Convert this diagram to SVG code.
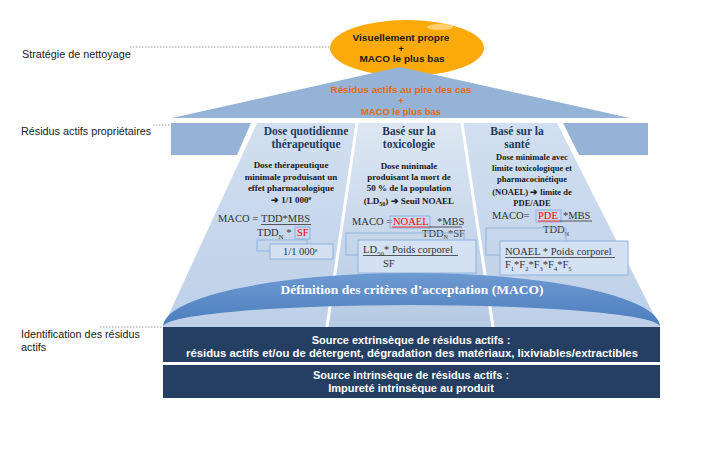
<svg xmlns="http://www.w3.org/2000/svg" width="711" height="449" viewBox="0 0 711 449">
<defs>
<style>
.lbl{font-family:"Liberation Sans",Arial,sans-serif;font-size:10.8px;fill:#1a1a1a}
.ora{font-family:"Liberation Sans",Arial,sans-serif;font-size:9.5px;font-weight:bold;fill:#E46C0A}
.blk{font-family:"Liberation Sans",Arial,sans-serif;font-size:9.5px;font-weight:bold;fill:#1a1a1a}
.hdr{font-family:"Liberation Serif","Times New Roman",serif;font-size:11.5px;font-weight:bold;fill:#1F3A60;text-anchor:middle}
.bod{font-family:"Liberation Serif","Times New Roman",serif;font-size:9px;font-weight:bold;fill:#1a1a1a;text-anchor:middle}
.bods{font-family:"Liberation Serif","Times New Roman",serif;font-size:8.5px;font-weight:bold;fill:#1a1a1a;text-anchor:middle}
.frm{font-family:"Liberation Serif","Times New Roman",serif;font-size:10.5px;fill:#333}
.red{fill:#FF0000}
.wht{font-family:"Liberation Sans",Arial,sans-serif;font-size:11px;font-weight:bold;fill:#ffffff;text-anchor:middle}
.arc{font-family:"Liberation Serif","Times New Roman",serif;font-size:13.5px;font-weight:bold;fill:#ffffff;text-anchor:middle}
.dot{stroke:#9a9a9a;stroke-width:1;stroke-dasharray:1.5 1.5;fill:none}
.bx{fill:none;stroke:#8FB2DE;stroke-width:1}
.bxf{fill:#D3E1F2;stroke:#8FB2DE;stroke-width:1}
.ul{stroke:#333;stroke-width:0.8}
.blue{fill:#95B3D7}
.dark{fill:#243F62}
</style>
<linearGradient id="gOut" x1="0" y1="0" x2="0" y2="1">
<stop offset="0" stop-color="#D2DFF0"/><stop offset="1" stop-color="#BDD0E8"/>
</linearGradient>
<linearGradient id="gMid" x1="0" y1="0" x2="0" y2="1">
<stop offset="0" stop-color="#DDE7F3"/><stop offset="1" stop-color="#B5CAE3"/>
</linearGradient>
<linearGradient id="gArc" x1="0" y1="0" x2="0" y2="1">
<stop offset="0" stop-color="#6E9AD2"/><stop offset="1" stop-color="#4B7DBC"/>
</linearGradient>
</defs>

<rect width="711" height="449" fill="#ffffff"/>

<g id="connectors">
<line class="dot" x1="130" y1="47" x2="330" y2="47"/>
<line class="dot" x1="153" y1="125" x2="171" y2="125"/>
<line class="dot" x1="100" y1="327" x2="163" y2="327"/>
</g>

<g id="left-labels">
<text class="lbl" x="22" y="58">Stratégie de nettoyage</text>
<text class="lbl" x="21" y="135">Résidus actifs propriétaires</text>
<text class="lbl" x="21" y="338">Identification des résidus</text>
<text class="lbl" x="21" y="351">actifs</text>
</g>

<g id="node-strategie">
<ellipse cx="407" cy="48" rx="77" ry="28" fill="#FCAA0A"/>
<ellipse cx="440" cy="27" rx="13" ry="3" fill="#FFE7B0" opacity="0.6"/>
<text class="blk" x="401" y="41" text-anchor="middle" textLength="97" lengthAdjust="spacingAndGlyphs">Visuellement propre</text>
<text class="blk" x="401" y="51.5" text-anchor="middle" font-size="8">+</text>
<text class="blk" x="402" y="62" text-anchor="middle" textLength="85" lengthAdjust="spacingAndGlyphs">MACO le plus bas</text>
</g>

<g id="node-pire-cas">
<polygon class="blue" points="400,67 630,118 172,118"/>
<text class="ora" x="401" y="93" text-anchor="middle" textLength="141" lengthAdjust="spacingAndGlyphs">Résidus actifs au pire des cas</text>
<text class="ora" x="401" y="104" text-anchor="middle" font-size="8">+</text>
<text class="ora" x="401" y="115" text-anchor="middle" textLength="80" lengthAdjust="spacingAndGlyphs">MACO le plus bas</text>
</g>

<g id="node-band">
<polygon class="blue" points="171,123 251,123 237,155 171,155"/>
<polygon class="blue" points="563,123 648,123 648,155 579,155"/>
</g>

<g id="node-colonnes">
<polygon fill="url(#gOut)" points="257,123 357,123 327,327 163,327"/>
<polygon fill="url(#gMid)" points="357,123 462,123 493,327 327,327"/>
<polygon fill="url(#gOut)" points="462,123 557,123 660,327 493,327"/>
<line x1="357" y1="123" x2="327" y2="327" stroke="#ffffff" stroke-width="3"/>
<line x1="462" y1="123" x2="493" y2="327" stroke="#ffffff" stroke-width="3"/>
</g>

<g id="node-dose-quotidienne">
<text class="hdr" x="306" y="135">Dose quotidienne</text>
<text class="hdr" x="306" y="148">thérapeutique</text>
<text class="bod" x="291" y="168">Dose thérapeutique</text>
<text class="bod" x="291" y="180">minimale produisant un</text>
<text class="bod" x="291" y="191">effet pharmacologique</text>
<text class="bod" x="291" y="203">➔ 1/1 000<tspan font-size="6" dy="-3">e</tspan></text>
<text class="frm" x="218" y="222">MACO = </text>
<text class="frm" x="261" y="222">TDD*MBS</text>
<line class="ul" x1="261" y1="224.5" x2="311" y2="224.5"/>
<text class="frm" x="257" y="236">TDD<tspan font-size="7" dy="2.5">N</tspan><tspan dy="-2.5"> * </tspan></text>
<rect class="bx" x="295" y="227" width="15" height="12"/>
<text class="frm red" x="297" y="236">SF</text>
<rect class="bx" x="257" y="240" width="50" height="11"/>
<rect class="bxf" x="270" y="244" width="63" height="15"/>
<text class="frm" x="283" y="255" font-size="10">1/1 000<tspan font-size="6" dy="-3.5">e</tspan></text>
</g>

<g id="node-toxicologie">
<text class="hdr" x="409" y="135">Basé sur la</text>
<text class="hdr" x="409" y="148">toxicologie</text>
<text class="bod" x="409" y="169">Dose minimale</text>
<text class="bod" x="409" y="180">produisant la mort de</text>
<text class="bod" x="409" y="191">50 % de la population</text>
<text class="bod" x="409" y="204">(LD<tspan font-size="6" dy="2">50</tspan><tspan dy="-2">) ➔ Seuil NOAEL</tspan></text>
<text class="frm" x="352" y="225" font-size="9.5">MACO = </text>
<rect class="bx" x="390" y="216" width="40" height="12"/>
<text class="frm red" x="393" y="225" font-size="9.5">NOAEL</text>
<text class="frm" x="437" y="225" font-size="9.5">*MBS</text>
<line x1="392" y1="227" x2="428" y2="227" stroke="#FF0000" stroke-width="0.8"/>
<line class="ul" x1="428" y1="227" x2="462" y2="227"/>
<text class="frm" x="422" y="237" font-size="9">TDD<tspan font-size="6" dy="2">N</tspan><tspan dy="-2">*SF</tspan></text>
<rect class="bx" x="346" y="233" width="118" height="22"/>
<rect class="bxf" x="358" y="240" width="118" height="33"/>
<text class="frm" x="363" y="253" font-size="11">LD<tspan font-size="7" dy="2.5">50</tspan><tspan dy="-2.5">* Poids corporel</tspan></text>
<line class="ul" x1="363" y1="255.5" x2="458" y2="255.5"/>
<text class="frm" x="383" y="267" font-size="10.5">SF</text>
</g>

<g id="node-sante">
<text class="hdr" x="517" y="135">Basé sur la</text>
<text class="hdr" x="517" y="148">santé</text>
<text class="bods" x="532" y="160">Dose minimale avec</text>
<text class="bods" x="532" y="171">limite toxicologique et</text>
<text class="bods" x="532" y="182">pharmacocinétique</text>
<text class="bods" x="532" y="195">(NOAEL) ➔ limite de</text>
<text class="bods" x="532" y="206">PDE/ADE</text>
<text class="frm" x="492" y="219" font-size="10">MACO= </text>
<rect class="bx" x="536" y="210" width="25" height="12"/>
<text class="frm red" x="538" y="219" font-size="10">PDE</text>
<text class="frm" x="563" y="219" font-size="10">*MBS</text>
<line x1="538" y1="221" x2="559" y2="221" stroke="#FF0000" stroke-width="0.8"/>
<line class="ul" x1="559" y1="221" x2="592" y2="221"/>
<text class="frm" x="543" y="233" font-size="10">TDD<tspan font-size="6.5" dy="2.5">N</tspan></text>
<rect class="bx" x="486" y="228" width="80" height="27"/>
<rect class="bxf" x="500" y="241" width="128" height="34"/>
<text class="frm" x="505" y="255" font-size="11">NOAEL  * Poids corporel</text>
<line class="ul" x1="505" y1="257.5" x2="615" y2="257.5"/>
<text class="frm" x="505" y="268" font-size="10">F<tspan font-size="6.5" dy="2.5">1</tspan><tspan dy="-2.5">*F</tspan><tspan font-size="6.5" dy="2.5">2</tspan><tspan dy="-2.5">*F</tspan><tspan font-size="6.5" dy="2.5">3</tspan><tspan dy="-2.5">*F</tspan><tspan font-size="6.5" dy="2.5">4</tspan><tspan dy="-2.5">*F</tspan><tspan font-size="6.5" dy="2.5">5</tspan></text>
</g>

<g id="node-definition">
<path d="M163,327 A248.5,54 0 0 1 660,327 A248.5,22 0 0 0 163,327 Z" fill="url(#gArc)"/>
<text class="arc" x="412" y="294">Définition des critères d’acceptation (MACO)</text>
</g>

<g id="node-source-extrinseque">
<rect class="dark" x="163" y="327" width="497" height="35"/>
<text class="wht" x="411" y="344">Source extrinsèque de résidus actifs :</text>
<text class="wht" x="412" y="357" textLength="452" lengthAdjust="spacingAndGlyphs">résidus actifs et/ou de détergent, dégradation des matériaux, lixiviables/extractibles</text>
</g>

<g id="node-source-intrinseque">
<rect class="dark" x="163" y="365" width="497" height="33"/>
<text class="wht" x="411" y="379">Source intrinsèque de résidus actifs :</text>
<text class="wht" x="411" y="392">Impureté intrinsèque au produit</text>
</g>
</svg>
